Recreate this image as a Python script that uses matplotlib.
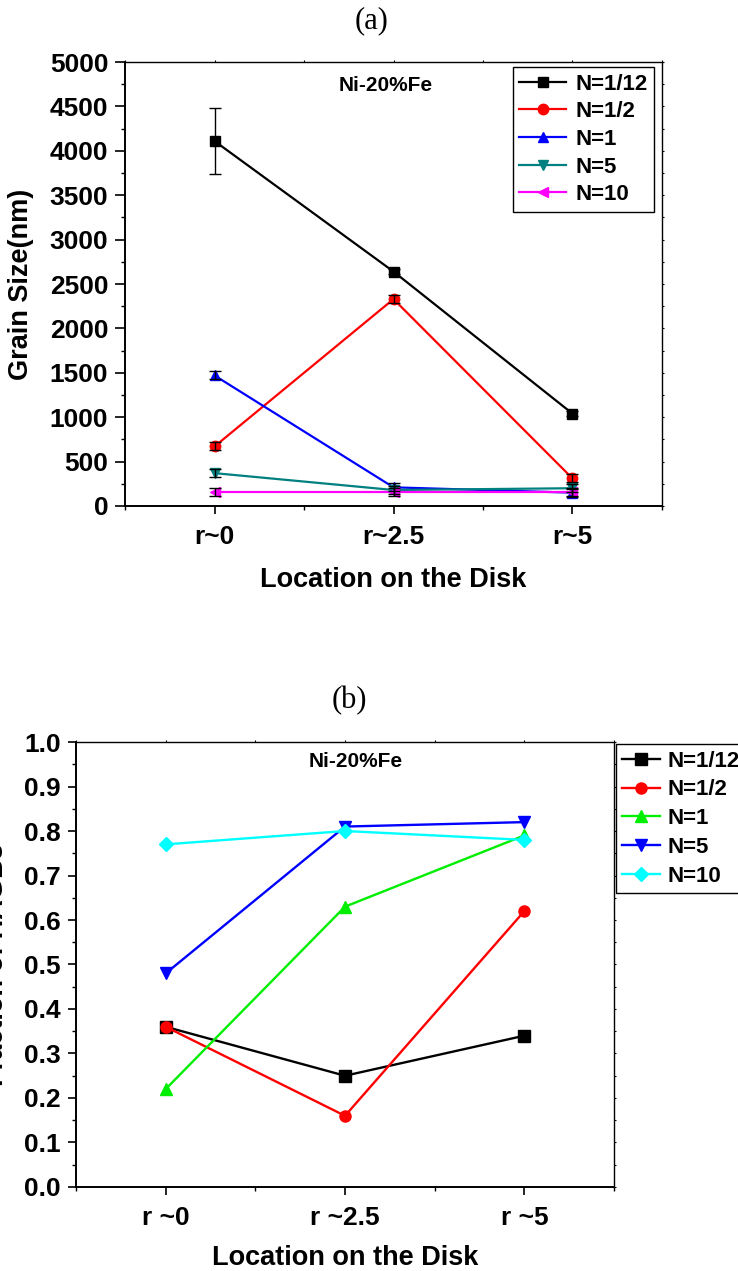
import matplotlib
matplotlib.use('Agg')
import matplotlib.pyplot as plt
from matplotlib.ticker import MultipleLocator

plt.rcParams['font.family'] = ['Liberation Sans', 'DejaVu Sans']
plt.rcParams['font.weight'] = 'bold'

# data
locs_a = ['r~0', 'r~2.5', 'r~5']
locs_b = ['r ~0', 'r ~2.5', 'r ~5']
labels = ['N=1/12', 'N=1/2', 'N=1', 'N=5', 'N=10']

grain = {
    'N=1/12': [4110, 2640, 1040],
    'N=1/2': [670, 2330, 310],
    'N=1': [1470, 210, 150],
    'N=5': [370, 180, 200],
    'N=10': [160, 160, 160],
}
grain_err = {
    'N=1/12': [370, 30, 30],
    'N=1/2': [45, 45, 45],
    'N=1': [45, 45, 45],
    'N=5': [45, 45, 45],
    'N=10': [45, 45, 45],
}
hagb = {
    'N=1/12': [0.36, 0.25, 0.34],
    'N=1/2': [0.36, 0.16, 0.62],
    'N=1': [0.22, 0.63, 0.79],
    'N=5': [0.48, 0.81, 0.82],
    'N=10': [0.77, 0.80, 0.78],
}

colors_a = ['black', 'red', 'blue', '#008080', 'magenta']
markers_a = ['s', 'o', '^', 'v', '<']
colors_b = ['black', 'red', '#00ee00', 'blue', 'cyan']
markers_b = ['s', 'o', '^', 'v', 'D']

fig = plt.figure(figsize=(7.38, 12.71), dpi=100)
ax1 = fig.add_axes([0.1694, 0.6019, 0.7276, 0.3493])
ax2 = fig.add_axes([0.1030, 0.0661, 0.7290, 0.3501])

x = [0, 1, 2]


def style_axes(ax, xt, ylen):
    ax.set_xlim(-0.5, 2.5)
    ax.set_xticks(x)
    ax.set_xticklabels(xt)
    ax.xaxis.set_minor_locator(MultipleLocator(0.5))
    ax.tick_params(axis='both', which='major', labelsize=19, width=1.2)
    ax.tick_params(axis='y', which='major', length=ylen, pad=5)
    ax.tick_params(axis='y', which='minor', length=ylen * 0.45, width=1.0)
    ax.tick_params(axis='x', which='major', length=6, pad=8)
    ax.tick_params(axis='x', which='minor', length=3, width=1.0)
    ax.tick_params(which='both', top=True, right=True, direction='out')
    # tiny ticks on the top / right frame
    for axis in (ax.xaxis, ax.yaxis):
        for t in axis.get_major_ticks() + axis.get_minor_ticks():
            t.tick2line.set_markersize(1.5)
            t.tick2line.set_markeredgewidth(0.8)
    for sp in ['left', 'bottom']:
        ax.spines[sp].set_linewidth(1.4)
    for sp in ['top', 'right']:
        ax.spines[sp].set_linewidth(1.0)
    for lab in ax.get_xticklabels() + ax.get_yticklabels():
        lab.set_fontweight('bold')


# (a)
for lab, c, m in zip(labels, colors_a, markers_a):
    ax1.plot(x, grain[lab], color=c, marker=m, markersize=7.5, lw=1.6, label=lab, zorder=3)
    ax1.errorbar(x, grain[lab], yerr=grain_err[lab], fmt='none', ecolor='black',
                 elinewidth=1.0, capsize=4, capthick=1.0, zorder=4)
ax1.set_ylim(0, 5000)
ax1.yaxis.set_major_locator(MultipleLocator(500))
ax1.yaxis.set_minor_locator(MultipleLocator(250))
style_axes(ax1, locs_a, 7)
ax1.set_ylabel('Grain Size(nm)', fontsize=19.5, fontweight='bold')
ax1.yaxis.set_label_coords(-0.169, 0.5)
ax1.set_xlabel('Location on the Disk', fontsize=19.5, fontweight='bold')
ax1.xaxis.set_label_coords(0.5, -0.137)
ax1.xaxis.label.set_va('top')
ax1.text(0.486, 0.948, 'Ni-20%Fe', transform=ax1.transAxes, ha='center', va='center',
         fontsize=15, fontweight='bold')
leg1 = ax1.legend(loc='upper right', bbox_to_anchor=(0.985, 0.989), borderaxespad=0,
                  fontsize=16, handlelength=2.1, handletextpad=0.4, labelspacing=0.3,
                  fancybox=False, edgecolor='black', framealpha=1, borderpad=0.3)
leg1.get_frame().set_linewidth(1.0)
for t in leg1.get_texts():
    t.set_fontweight('bold')

# (b)
for lab, c, m in zip(labels, colors_b, markers_b):
    ax2.plot(x, hagb[lab], color=c, marker=m, markersize=8 if m != 'D' else 7,
             lw=1.7, label=lab, zorder=3)
ax2.set_ylim(0, 1.0)
ax2.yaxis.set_major_locator(MultipleLocator(0.1))
ax2.yaxis.set_minor_locator(MultipleLocator(0.05))
ax2.set_yticks([i / 10 for i in range(11)])
ax2.set_yticklabels([f'{i / 10:.1f}' for i in range(11)])
style_axes(ax2, locs_b, 6)
ax2.set_ylabel('Fraction of HAGBs', fontsize=19.5, fontweight='bold')
ax2.yaxis.set_label_coords(-0.125, 0.5)
ax2.set_xlabel('Location on the Disk', fontsize=19.5, fontweight='bold')
ax2.xaxis.set_label_coords(0.5, -0.131)
ax2.xaxis.label.set_va('top')
ax2.text(0.52, 0.957, 'Ni-20%Fe', transform=ax2.transAxes, ha='center', va='center',
         fontsize=15, fontweight='bold')
leg2 = ax2.legend(loc='upper left', bbox_to_anchor=(1.003, 0.9955), borderaxespad=0,
                  fontsize=16, handlelength=1.7, handletextpad=0.35, labelspacing=0.35,
                  fancybox=False, edgecolor='black', framealpha=1, borderpad=0.3)
leg2.get_frame().set_linewidth(1.0)
for t in leg2.get_texts():
    t.set_fontweight('bold')

fig.text(0.503, 0.984, '(a)', ha='center', va='center', fontsize=22,
         family='Liberation Serif', fontweight='normal')
fig.text(0.474, 0.4485, '(b)', ha='center', va='center', fontsize=22,
         family='Liberation Serif', fontweight='normal')

fig.savefig('out.png', dpi=100)
